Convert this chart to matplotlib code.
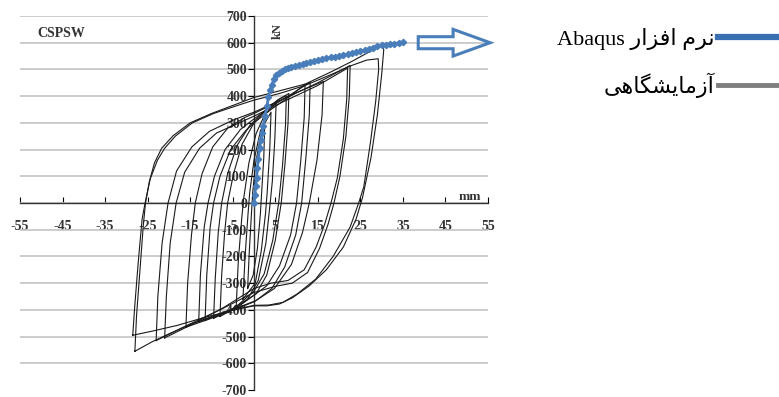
import numpy as np
import matplotlib.pyplot as plt
from matplotlib.lines import Line2D
from matplotlib.patches import FancyArrow

plt.rcParams['font.family'] = ['Liberation Serif', 'DejaVu Sans']
plt.rcParams['axes.unicode_minus'] = False

# Abaqus (numerical) pushover curve, mm / kN
abaqus_x = [0, 0.2, 0.4, 0.6, 0.8, 1.0, 1.3, 1.6, 1.9, 2.2, 2.6, 3.0, 3.4, 3.8, 4.2,
            4.7, 5.2, 5.8, 6.5, 7.2, 8.0, 8.8, 9.6, 10.5, 11.4, 12.3, 13.2, 14.1, 15.0,
            16, 17, 18, 19, 20, 21, 22, 23, 24, 25, 26, 27, 28, 29, 30, 31, 32, 33, 34, 35]
abaqus_y = [0, 30, 62, 95, 130, 166, 205, 235, 262, 290, 326, 362, 395, 422, 443,
            465, 478, 487, 494, 500, 505, 509, 512, 516, 520, 524, 528, 531, 534,
            538, 541, 545, 548, 551, 554, 556, 560, 564, 568, 572, 577, 582, 587, 590,
            592, 595, 597, 599, 601]

loop_s1 = [(-1.5, -320), (-1.1, -180), (-0.6, -40), (-0.3, 40), (0.4, 150), (1.3, 230),
           (2.5, 280), (2.3, 170), (1.8, 40), (1.5, -40), (0.8, -170), (-0.2, -270),
           (-1.5, -320)]
loop_s2 = [(-2.6, -360), (-2.1, -200), (-1.4, -40), (-1.0, 40), (0.0, 160), (1.5, 270),
           (4.0, 340), (3.7, 200), (3.1, 40), (2.7, -40), (1.7, -180), (0.3, -300),
           (-2.6, -360)]
loop_s3 = [(-4.2, -395), (-3.7, -220), (-2.9, -60), (-2.4, 20), (-1.2, 150), (0.5, 260),
           (2.5, 330), (5.2, 375), (4.9, 240), (4.3, 80), (3.8, 0), (2.8, -150),
           (1.0, -290), (-1.5, -360), (-4.2, -395)]
loop_m1 = [(-8, -425), (-7.6, -270), (-6.9, -110), (-6.2, 0), (-4.8, 110), (-2.8, 220),
           (0, 300), (3, 350), (6, 390), (8.2, 410), (8.0, 300), (7.3, 150), (6.4, 0),
           (5.0, -140), (3.0, -270), (0.5, -340), (-3.5, -385), (-8, -425)]
loop_m1b = [(-9.5, -432), (-9.1, -280), (-8.4, -110), (-7.6, 0), (-6.2, 110), (-4, 215),
            (-1, 290), (2.5, 345), (5.5, 385), (7.6, 402), (7.4, 290), (6.7, 140),
            (5.8, 0), (4.4, -140), (2.4, -265), (0, -330), (-4.5, -392), (-9.5, -432)]
loop_m2 = [(-13, -445), (-12.6, -270), (-11.7, -90), (-10.8, 0), (-9.3, 100), (-6.8, 200),
           (-3.2, 275), (0, 315), (4, 360), (9, 410), (13.2, 452), (13.0, 330),
           (12.2, 170), (11.2, 0), (9.8, -120), (7.2, -240), (4.2, -320), (0.5, -365),
           (-6, -405), (-13, -445)]
loop_m2b = [(-11.5, -440), (-11.1, -270), (-10.3, -90), (-9.5, 0), (-8, 100), (-5.5, 200),
            (-2, 270), (0, 300), (4, 350), (8.5, 400), (12, 445), (11.8, 320), (11.0, 160),
            (10.0, 0), (8.6, -120), (6, -235), (3, -310), (0, -345), (-5, -395),
            (-11.5, -440)]
loop_m3 = [(-16, -465), (-15.6, -300), (-14.7, -120), (-13.8, 0), (-12.2, 110),
           (-9.7, 210), (-6.2, 280), (-2.2, 320), (0, 335), (5, 375), (11, 420),
           (16.3, 455), (16.0, 330), (14.8, 160), (13.0, 0), (11.4, -110), (8.8, -230),
           (4.8, -320), (0, -370), (-8, -420), (-16, -465)]
loop_l1 = [(-23, -515), (-22.6, -350), (-21.6, -150), (-20.2, 0), (-18.2, 120),
           (-14.6, 210), (-10.5, 268), (-5, 310), (0, 340), (7, 390), (15, 450),
           (22.6, 515), (22.4, 400), (21.6, 250), (20.2, 100), (18.8, 0), (17.4, -80),
           (15.4, -170), (12.6, -260), (9, -300), (5, -312), (0, -335), (-8, -400),
           (-16, -460), (-23, -515)]
loop_l1b = [(-21, -505), (-20.6, -350), (-19.7, -150), (-18.3, 0), (-16.3, 115),
            (-12.8, 205), (-8.8, 262), (-3.5, 300), (0, 325), (7, 380), (15, 440),
            (22, 505), (21.8, 390), (21, 240), (19.6, 95), (18.1, 0), (16.6, -80),
            (14.6, -165), (11.8, -250), (8, -290), (4, -300), (0, -320), (-7, -390),
            (-14, -450), (-21, -505)]
loop_l2 = [(-28, -555), (-27.6, -420), (-26.8, -250), (-26, -80), (-25.5, 0), (-24.6, 80),
           (-23.4, 150), (-21.7, 205), (-19, 252), (-15, 300), (-10, 335), (-5, 365),
           (0, 395), (6, 420), (12, 445), (18, 490), (23, 530), (27, 565), (30, 590),
           (30.5, 575), (30, 480), (29, 330), (27.5, 170), (25.5, 20), (24, -60),
           (21, -165), (17, -250), (13, -310), (9, -355), (6, -378), (3, -385),
           (0, -385), (-5, -400), (-10, -425), (-15, -455), (-20, -490), (-24, -520),
           (-28, -555)]
loop_l3 = [(-28.5, -495), (-28.0, -380), (-27.2, -220), (-26.3, -60), (-25.6, 0),
           (-24.4, 90), (-22.7, 160), (-21.0, 205), (-18.5, 250), (-14.5, 300),
           (-9.5, 335), (-4.5, 362), (0, 385), (6, 410), (12, 440), (18, 480), (23, 515),
           (26.5, 535), (29.2, 540), (29.3, 500), (28.6, 380), (27.4, 230), (25.8, 60),
           (24.6, 0), (22.6, -90), (18.6, -200), (14.5, -285), (10.2, -340), (6.8, -372),
           (3.5, -382), (0, -383), (-6, -405), (-12, -430), (-18, -458), (-24, -480),
           (-28.5, -495)]
test_loops = [loop_s1, loop_s2, loop_s3, loop_m1, loop_m1b, loop_m2, loop_m2b, loop_m3,
              loop_l1, loop_l1b, loop_l2, loop_l3]

x_ticks = [-55, -45, -35, -25, -15, -5, 5, 15, 25, 35, 45, 55]
y_ticks = list(range(-700, 701, 100))

label_abaqus = 'Abaqus \ufead\ufe8d\ufeb0\ufed3\ufe8d \ufee1\ufeae\ufee7'
label_test = '\ufbfd\ufeeb\ufe8e\ufb95\ufeb8\ufbfe\ufe8e\ufee3\ufeaf\ufe81'

blue = '#4a7ebb'

fig = plt.figure(figsize=(7.79, 3.97), dpi=100)
ax = fig.add_axes([20 / 779, 7 / 397, 468 / 779, 374 / 397])
ax.set_xlim(-55, 55)
ax.set_ylim(-700, 700)

for loop in test_loops:
    pts = np.array(loop)
    ax.plot(pts[:, 0], pts[:, 1], color='#1a1a1a', lw=0.8, zorder=3)

ax.plot(abaqus_x, abaqus_y, color=blue, lw=2, marker='D', ms=3.2, zorder=4)

# axes through the origin
for side in ['top', 'right']:
    ax.spines[side].set_visible(False)
ax.spines['left'].set_position('zero')
ax.spines['bottom'].set_position('zero')
for side in ['left', 'bottom']:
    ax.spines[side].set_color('#333333')
    ax.spines[side].set_linewidth(1.0)

ax.set_xticks(x_ticks)
ax.set_yticks(y_ticks)
ax.tick_params(axis='x', direction='in', length=4, pad=12, labelsize=10)
ax.tick_params(axis='y', direction='out', length=4, pad=1, labelsize=10)
for lab in ax.get_xticklabels() + ax.get_yticklabels():
    lab.set_fontweight('bold')
    lab.set_color('#333333')

ax.yaxis.grid(True, color='#c4c4c4', lw=1.2)
ax.set_axisbelow(True)
ax.get_ygridlines()[0].set_visible(False)

ax.text(-51, 636, 'CSPSW', fontsize=10, fontweight='bold', color='#333333', va='center')
ax.text(5.6, 643, 'kN', fontsize=9, fontweight='bold', color='#333333', rotation=90,
        ha='center', va='center')
ax.text(50.8, 24, 'mm', fontsize=9.5, fontweight='bold', color='#333333', ha='center',
        va='center')

arrow = FancyArrow(38.6, 600, 16.9, 0, width=45, head_width=100, head_length=8.7,
                   length_includes_head=True, fill=False, edgecolor=blue, lw=2.2,
                   clip_on=False, zorder=5)
ax.add_patch(arrow)

handles = [Line2D([], [], color='#3a6eb3', lw=4.5),
           Line2D([], [], color='#7f7f7f', lw=3.5)]
fig.legend(handles, [label_abaqus, label_test], loc='upper right',
           bbox_to_anchor=(778 / 779, 1 - 28 / 397), frameon=False, markerfirst=False,
           borderpad=0, borderaxespad=0, fontsize=16, handlelength=2.7,
           handletextpad=0.15, labelspacing=1.0)

plt.savefig('out.png', dpi=100)
